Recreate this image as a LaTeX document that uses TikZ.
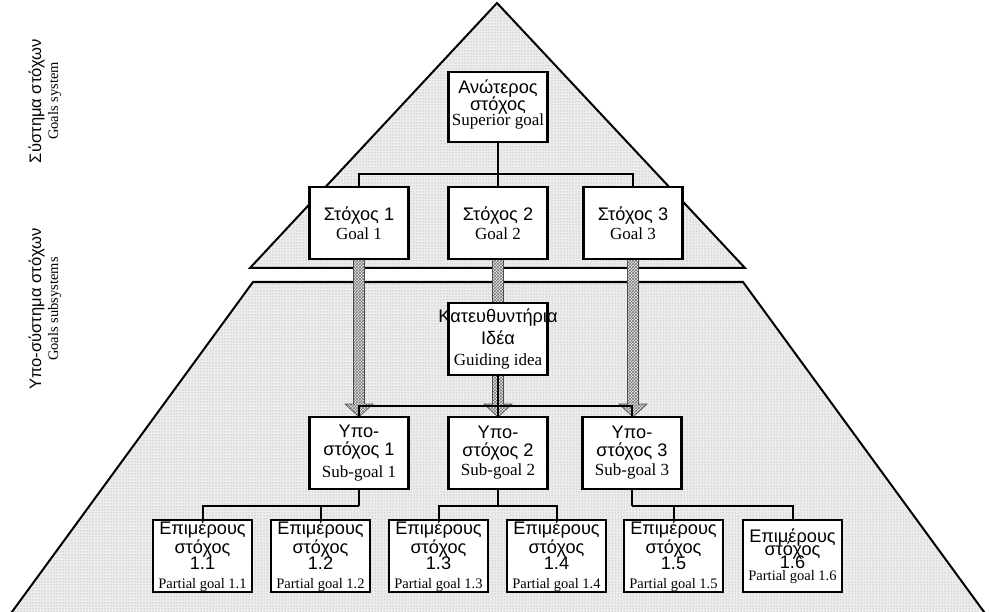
\documentclass[tikz,border=0pt]{standalone}
\usepackage{fontspec}
\setmainfont{Liberation Serif}
\newfontfamily\grfont[Scale=1.07]{Liberation Sans}
\usepackage{tikz}
\usetikzlibrary{positioning,patterns,calc}
\pgfdeclarelayer{background}
\pgfsetlayers{background,main}

\newcommand{\gk}[1]{{\grfont #1}}
\newcommand{\engsmall}[1]{{\fontsize{14.5}{15}\selectfont #1}}
\newcommand{\hatcharrow}[2]{%
  \path[hatch] let \p1=(#1), \p2=(#2) in
    (\x1-5.5pt,\y1) -- (\x1+5.5pt,\y1) -- (\x1+5.5pt,\y2+13pt) -- (\x1+14pt,\y2+13pt)
    -- (\x1,\y2) -- (\x1-14pt,\y2+13pt) -- (\x1-5.5pt,\y2+13pt) -- cycle;}

\begin{document}
\begin{tikzpicture}[
    x=1pt, y=-1pt,
    box/.style={rectangle, draw, line width=2.5pt, fill=white, minimum width=99pt, minimum height=72pt, inner sep=0pt, outer sep=0pt, align=center, font=\fontsize{17}{17}\selectfont},
    partbox/.style={box, font=\fontsize{17}{16.5}\selectfont},
    treeline/.style={line width=2pt},
    pyrline/.style={line width=2pt, line join=miter},
    pyramid/.style={pattern=dots, pattern color=gray!85, preaction={fill=gray!14}},
    hatch/.style={pattern=crosshatch, pattern color=gray!90!black, draw=gray!60!black, line width=0.6pt, preaction={fill=gray!15}},
    side/.style={rotate=90, align=center, font=\fontsize{15.5}{17}\selectfont}
]
    \useasboundingbox (0,0) rectangle (990,612);

    % Goals system
    \node[box, minimum height=70pt] (top) at (498,107) {\gk{Ανώτερος}\\[-1pt]\gk{στόχος}\\[-2pt]Superior goal\rule[-9pt]{0pt}{0pt}};
    \node[box, below=45pt of top] (goal2) {\gk{Στόχος 2}\\[2pt]Goal 2};
    \node[box, left=40pt of goal2] (goal1) {\gk{Στόχος 1}\\[2pt]Goal 1};
    \node[box, right=36pt of goal2] (goal3) {\gk{Στόχος 3}\\[2pt]Goal 3};

    % Guiding idea and sub-goals
    \node[box, below=44pt of goal2] (guide) {\gk{\makebox[0pt]{Κατευθυντήρια}}\\[3pt]\gk{Ιδέα}\\[4pt]Guiding idea};
    \node[box, below=42pt of guide] (sub2) {\gk{Υπο-}\\[1pt]\gk{στόχος 2}\\[2pt]Sub-goal 2};
    \node[box, left=40pt of sub2] (sub1) {\gk{Υπο-}\\[1pt]\gk{στόχος 1}\\[5pt]Sub-goal 1};
    \node[box, right=35pt of sub2] (sub3) {\gk{Υπο-}\\[1pt]\gk{στόχος 3}\\[2pt]Sub-goal 3};

    % Partial goals
    \node[partbox] (p11) at (202.5,556) {\gk{Επιμέρους}\\\gk{στόχος}\\\gk{1.1}\\[2pt]\engsmall{Partial goal 1.1}};
    \node[partbox, right=19pt of p11] (p12) {\gk{Επιμέρους}\\\gk{στόχος}\\\gk{1.2}\\[2pt]\engsmall{Partial goal 1.2}};
    \node[partbox, right=19pt of p12] (p13) {\gk{Επιμέρους}\\\gk{στόχος}\\\gk{1.3}\\[2pt]\engsmall{Partial goal 1.3}};
    \node[partbox, right=19pt of p13] (p14) {\gk{Επιμέρους}\\\gk{στόχος}\\\gk{1.4}\\[2pt]\engsmall{Partial goal 1.4}};
    \node[partbox, right=18pt of p14] (p15) {\gk{Επιμέρους}\\\gk{στόχος}\\\gk{1.5}\\[2pt]\engsmall{Partial goal 1.5}};
    \node[partbox, right=20pt of p15] (p16) {\gk{Επιμέρους}\\[-6pt]\gk{στόχος}\\[-3pt]\gk{1.6}\\[-5pt]\engsmall{Partial goal 1.6}};

    % Side labels
    \node[side] (sys) at (45,101) {\gk{Σύστημα στόχων}\\\engsmall{Goals system}};
    \node[side] (subsys) at (45,309) {\gk{Υπο-σύστημα στόχων}\\\engsmall{Goals subsystems}};

    % Pyramid and wide arrows behind the boxes
    \begin{pgfonlayer}{background}
        \draw[pyrline, pyramid] (497,3) -- (745,268) -- (250,268) -- cycle;
        \path[pyramid] (253,282) -- (743,282) -- (987,616) -- (9,616) -- cycle;
        \draw[pyrline] (9,616) -- (253,282) -- (743,282) -- (987,616);
        \hatcharrow{goal1.south}{sub1.north}
        \hatcharrow{goal2.south}{sub2.north}
        \hatcharrow{goal3.south}{sub3.north}
    \end{pgfonlayer}

    % Tree lines
    \draw[treeline] (top.south) -- ++(0,32) coordinate (t0);
    \draw[treeline] (goal1.north) |- (t0) -| (goal3.north);
    \draw[treeline] (t0) -- (goal2.north);

    \draw[treeline] (guide.south) -- ++(0,31) coordinate (i0);
    \draw[treeline] (sub1.north) |- (i0) -| (sub3.north);
    \draw[treeline] (i0) -- (sub2.north);

    \draw[treeline] (sub1.south) -- ++(0,17) coordinate (s10);
    \draw[treeline] (p11.north) |- (s10);
    \draw[treeline] (p12.north) -- (p12.north |- s10);

    \draw[treeline] (sub2.south) -- ++(0,17) coordinate (s20);
    \draw[treeline] (p13.north) |- (s20) -| (p14.north);

    \draw[treeline] (sub3.south) -- ++(0,17) coordinate (s30);
    \draw[treeline] (s30) -| (p16.north);
    \draw[treeline] (p15.north) -- (p15.north |- s30);
\end{tikzpicture}
\end{document}
